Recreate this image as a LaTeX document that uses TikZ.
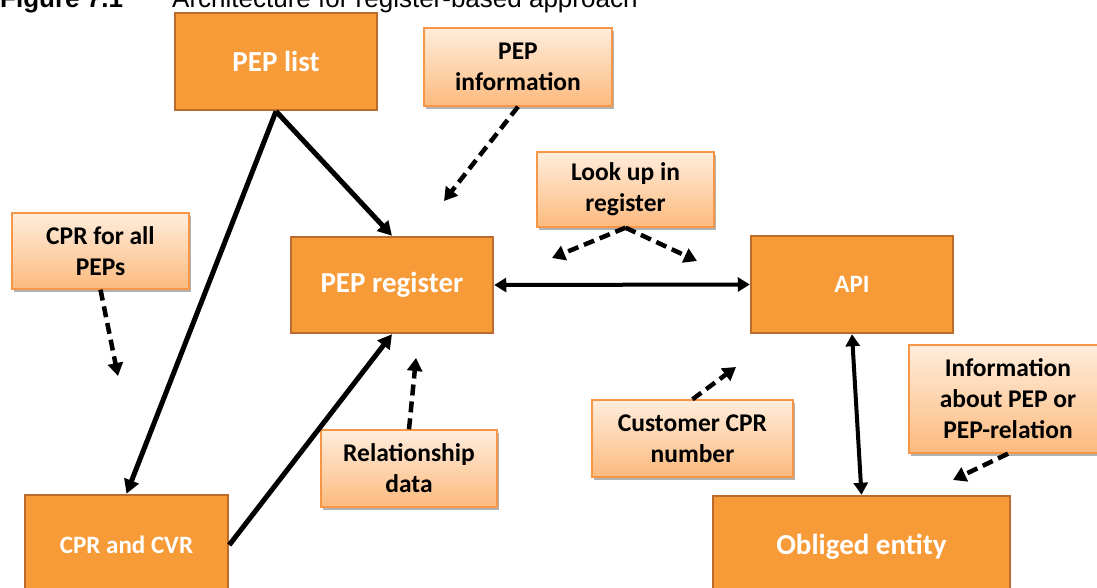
\documentclass[tikz,border=0pt]{standalone}
\usepackage{fontspec}
\setmainfont{Carlito}
\newfontfamily\capfont{Liberation Sans}
\usetikzlibrary{arrows.meta,shadows}

\definecolor{boxfill}{RGB}{247,154,56}
\definecolor{boxedge}{RGB}{188,108,42}
\definecolor{notetop}{RGB}{255,237,220}
\definecolor{notebot}{RGB}{252,186,126}
\definecolor{noteedge}{RGB}{247,150,70}

\begin{document}
\begin{tikzpicture}[x=1pt,y=-1pt,
  mainbox/.style={draw=boxedge, line width=2.5pt, fill=boxfill, text=white,
    font=\bfseries\fontsize{29}{35}\selectfont, align=center, inner sep=0pt},
  smallmain/.style={mainbox, font=\bfseries\fontsize{25}{30}\selectfont},
  notebox/.style={draw=noteedge, line width=1.4pt, top color=notetop, bottom color=notebot,
    text=black, font=\bfseries\fontsize{25.5}{31}\selectfont, align=center, inner sep=0pt,
    drop shadow={shadow xshift=2pt, shadow yshift=-3pt, opacity=0.3, fill=black}},
  flow/.style={line width=5pt, -{Triangle[length=14pt,width=15pt]}},
  twoway/.style={line width=4pt, {Triangle[length=12pt,width=14pt]}-{Triangle[length=12pt,width=14pt]}},
  hint/.style={line width=4.5pt, dash pattern=on 11pt off 6pt, -{Triangle[length=13pt,width=15pt]}},
  captext/.style={anchor=base west, inner sep=0pt, font=\capfont\fontsize{26}{30}\selectfont}
]
\useasboundingbox (0,0) rectangle (1097,588);
\clip (0,0) rectangle (1097,588);
\fill[white] (0,0) rectangle (1097,588);

% caption, cut by the top edge
\node[captext, font=\capfont\bfseries\fontsize{26}{30}\selectfont] (capnum) at (0,8) {Figure 7.1};
\node[captext] (captitle) at (172,8) {Architecture for register-based approach};

% main boxes
\node[mainbox, minimum width=202pt, minimum height=97pt] (peplist) at (276,61.5) {PEP list};
\node[mainbox, minimum width=202pt, minimum height=96pt] (pepreg) at (392,285) {PEP register};
\node[smallmain, minimum width=202pt, minimum height=97pt] (api) at (852,284.5) {API};
\node[smallmain, minimum width=203pt, minimum height=100pt] (cprcvr) at (126.5,545) {CPR and CVR};
\node[mainbox, minimum width=297pt, minimum height=102pt] (oblig) at (861.5,547) {Obliged entity};

% note boxes
\node[notebox, minimum width=188pt, minimum height=78pt] (pepinfo) at (518,67) {PEP\\information};
\node[notebox, minimum width=177pt, minimum height=75pt] (lookup) at (625.5,189.5) {Look up in\\register};
\node[notebox, minimum width=177pt, minimum height=76pt] (cprall) at (100.5,251) {CPR for all\\PEPs};
\node[notebox, minimum width=176pt, minimum height=77pt] (reldata) at (409,468.5) {Relationship\\data};
\node[notebox, minimum width=201pt, minimum height=77pt] (custcpr) at (692.5,438.5) {Customer CPR\\number};
\node[notebox, minimum width=198pt, minimum height=108pt] (infopep) at (1008,399) {Information\\about PEP or\\PEP-relation};

% free ends of the note arrows
\coordinate (pepinfoend) at (444,201);
\coordinate (lookleft) at (552,258);
\coordinate (lookright) at (697,261);
\coordinate (cprallend) at (118,376);
\coordinate (relend) at (416,358);
\coordinate (custend) at (736,367);
\coordinate (infoend) at (953,480);

% data flows
\draw[flow] (peplist.south) -- (pepreg.north);
\draw[flow] (peplist.south) -- (cprcvr.north);
\draw[flow] (cprcvr.east) -- (pepreg.south);
\draw[twoway] (pepreg.east) -- (api.west);
\draw[twoway] (api.south) -- (oblig.north);

% note arrows
\draw[hint] (pepinfo.south) -- (pepinfoend);
\draw[hint] (lookup.south) -- (lookleft);
\draw[hint] (lookup.south) -- (lookright);
\draw[hint] (cprall.south) -- (cprallend);
\draw[hint] (reldata.north) -- (relend);
\draw[hint] (custcpr.north) -- (custend);
\draw[hint] (infopep.south) -- (infoend);
\end{tikzpicture}
\end{document}
